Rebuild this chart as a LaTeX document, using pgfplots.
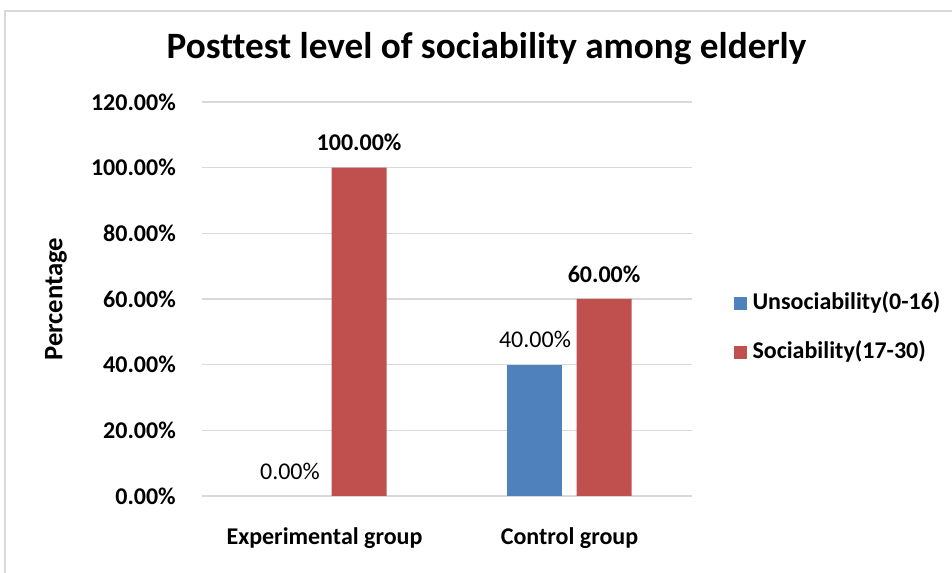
\documentclass[border=0pt]{standalone}
\usepackage{pgfplots}
\pgfplotsset{compat=1.18}
\usepackage{fontspec}
\setmainfont{Carlito}[Ligatures={NoCommon}]
\definecolor{blueE}{HTML}{4F81BD}
\definecolor{redE}{HTML}{C0504D}
\definecolor{gridc}{HTML}{D9D9D9}
\begin{document}
\begin{tikzpicture}
\useasboundingbox (0pt,0pt) rectangle (714pt,429.75pt);
\draw[gridc, line width=1.2pt] (3.75pt,-20pt) rectangle (740pt,421.5pt);
\begin{axis}[
  at={(151.5pt,57.75pt)}, anchor=south west,
  scale only axis, width=367.5pt, height=295.5pt,
  xmin=-0.5, xmax=1.5, ymin=0, ymax=120,
  ytick={0,20,40,60,80,100,120},
  yticklabels={0.00\%,20.00\%,40.00\%,60.00\%,80.00\%,100.00\%,120.00\%},
  xtick={0,1},
  xticklabels={Experimental group, Control group},
  axis line style={draw=none},
  major tick length=0pt,
  ymajorgrids, grid style={color=gridc, line width=0.9pt},
  yticklabel style={font=\bfseries\fontsize{18}{20}\selectfont, anchor=east, inner sep=0pt, xshift=-19.5pt},
  xticklabel style={font=\bfseries\fontsize{18}{20}\selectfont, anchor=north, inner sep=0pt, yshift=-23.5pt},
  ylabel={Percentage},
  ylabel style={font=\bfseries\fontsize{20}{22}\selectfont, at={(axis description cs:-0.298,0.5)}, anchor=center},
  title={Posttest level of sociability among elderly},
  title style={font=\bfseries\fontsize{27.9}{30}\selectfont, at={(axis description cs:0.5806,1.0912)}, anchor=base, inner sep=0pt},
  /pgf/number format/assume math mode=true,
  point meta=y,
  nodes near coords={\pgfmathprintnumber[fixed,fixed zerofill,precision=2]{\pgfplotspointmeta}\%},
  nodes near coords style={anchor=base, inner sep=0pt, yshift=12.5pt},
  legend style={at={(1.076,0.4264)}, anchor=west, draw=none, fill=none,
    font=\bfseries\fontsize{18}{20}\selectfont, row sep=20.25pt,
    nodes={inner sep=0pt, text height=13pt, text depth=4pt}},
  legend cell align=left,
  legend image code/.code={\fill[#1] (0pt,-4.875pt) rectangle (9.75pt,4.875pt);},
]
\addplot[ybar, bar width=0.2245, bar shift=-0.141, fill=blueE, draw=none,
  nodes near coords style={font=\fontsize{18}{20}\selectfont, xshift=-25.9pt}]
  coordinates {(1,40)};
\addlegendentry{\hspace{4.5pt}Unsociability(0-16)}
\addplot[ybar, bar width=0.2245, bar shift=0.141, fill=redE, draw=none,
  nodes near coords style={font=\bfseries\fontsize{18}{20}\selectfont, xshift=25.9pt}]
  coordinates {(0,100) (1,60)};
\addlegendentry{\hspace{4.5pt}Sociability(17-30)}
\addplot[draw=none, mark=none, forget plot,
  nodes near coords style={font=\fontsize{18}{20}\selectfont, xshift=-25.9pt}]
  coordinates {(0,0)};
\end{axis}
\end{tikzpicture}
\end{document}
